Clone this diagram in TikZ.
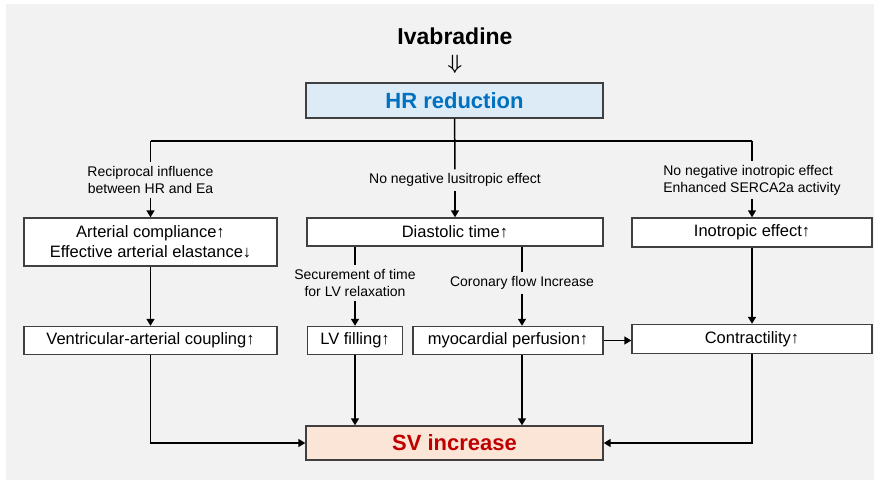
\documentclass[tikz,border=0pt]{standalone}
\usepackage{amsmath}
\usepackage{fontspec}
\setmainfont{Liberation Sans}
\usepackage{tikz}
\usetikzlibrary{arrows.meta}
\definecolor{bggray}{HTML}{F2F2F2}
\definecolor{hrfill}{HTML}{DDEBF7}
\definecolor{hrtext}{HTML}{0070C0}
\definecolor{svfill}{HTML}{FBE5D6}
\definecolor{svtext}{HTML}{C00000}
\definecolor{edgegray}{HTML}{404040}

\begin{document}
\begin{tikzpicture}[x=1pt,y=-1pt,
  box/.style={draw=edgegray,line width=1.4pt,fill=white,inner sep=0pt,align=center,font=\fontsize{16.5}{20}\selectfont},
  lbl/.style={inner sep=4pt,align=center,font=\fontsize{14}{17}\selectfont},
  wire/.style={line width=1.5pt},
  flow/.style={line width=1.5pt,-{Triangle[length=7pt,width=8pt]}}]
\useasboundingbox (0,0) rectangle (877,481);
\fill[bggray] (6,4) rectangle (874,480);

\node (ivab) at (455,36) {\fontsize{23}{23}\selectfont\bfseries Ivabradine};
\node[font=\fontsize{20}{20}\selectfont] (dnarr) at (455,64) {$\boldsymbol{\Downarrow}$};
\node[box,fill=hrfill,minimum width=297pt,minimum height=35pt,text=hrtext,font=\fontsize{22}{22}\selectfont\bfseries] (hr) at (454.5,100.5) {HR reduction};

\node[lbl] (recip) at (150.5,180) {Reciprocal influence\\between HR and Ea};
\node[lbl] (lusi) at (455,180) {No negative lusitropic effect};
\node[lbl,align=left] (inotr) at (752,180) {No negative inotropic effect\\Enhanced SERCA2a activity};

\node[box,minimum width=253pt,minimum height=48pt] (comp) at (150.5,242) {Arterial compliance↑\\Effective arterial elastance↓};
\node[box,minimum width=253pt,minimum height=28pt] (coup) at (150.5,340.5) {Ventricular-arterial coupling↑};
\node[box,minimum width=296pt,minimum height=28pt] (dia) at (455,232) {Diastolic time↑};
\node[lbl] (secu) at (355,283) {Securement of time\\for LV relaxation};
\node[lbl] (coro) at (522,283) {Coronary flow Increase};
\node[box,minimum width=95pt,minimum height=28pt] (lvf) at (355,340.5) {LV filling↑};
\node[box,minimum width=190pt,minimum height=28pt] (perf) at (508,340.5) {myocardial perfusion↑};
\node[box,minimum width=240pt,minimum height=29pt] (ino) at (752,232.5) {Inotropic effect↑};
\node[box,minimum width=240pt,minimum height=29pt] (contr) at (752,339) {Contractility↑};
\node[box,fill=svfill,minimum width=297pt,minimum height=34pt,text=svtext,font=\fontsize{22}{22}\selectfont\bfseries] (sv) at (454.5,443) {SV increase};

\coordinate (jl) at (150.5,141);
\coordinate (jr) at (752,141);
\draw[wire] (hr) -- (lusi);
\draw[wire] (jl) -- (jr);
\draw[wire] (jl) -- (recip);
\draw[wire] (jr) -- (inotr);
\draw[flow] (recip) -- (comp);
\draw[flow] (lusi) -- (dia);
\draw[flow] (inotr) -- (ino);

\draw[flow] (comp) -- (coup);
\draw[wire] (dia.south -| lvf) -- (secu);
\draw[flow] (secu) -- (lvf);
\draw[wire] (dia.south -| coro) -- (coro);
\draw[flow] (coro) -- (coro |- perf.north);
\draw[flow] (perf.east) -- (perf.east -| contr.west);
\draw[flow] (ino) -- (contr);

\draw[flow] (coup) |- (sv);
\draw[flow] (lvf) -- (lvf |- sv.north);
\draw[flow] (coro |- perf.south) -- (coro |- sv.north);
\draw[flow] (contr) |- (sv);
\end{tikzpicture}
\end{document}
